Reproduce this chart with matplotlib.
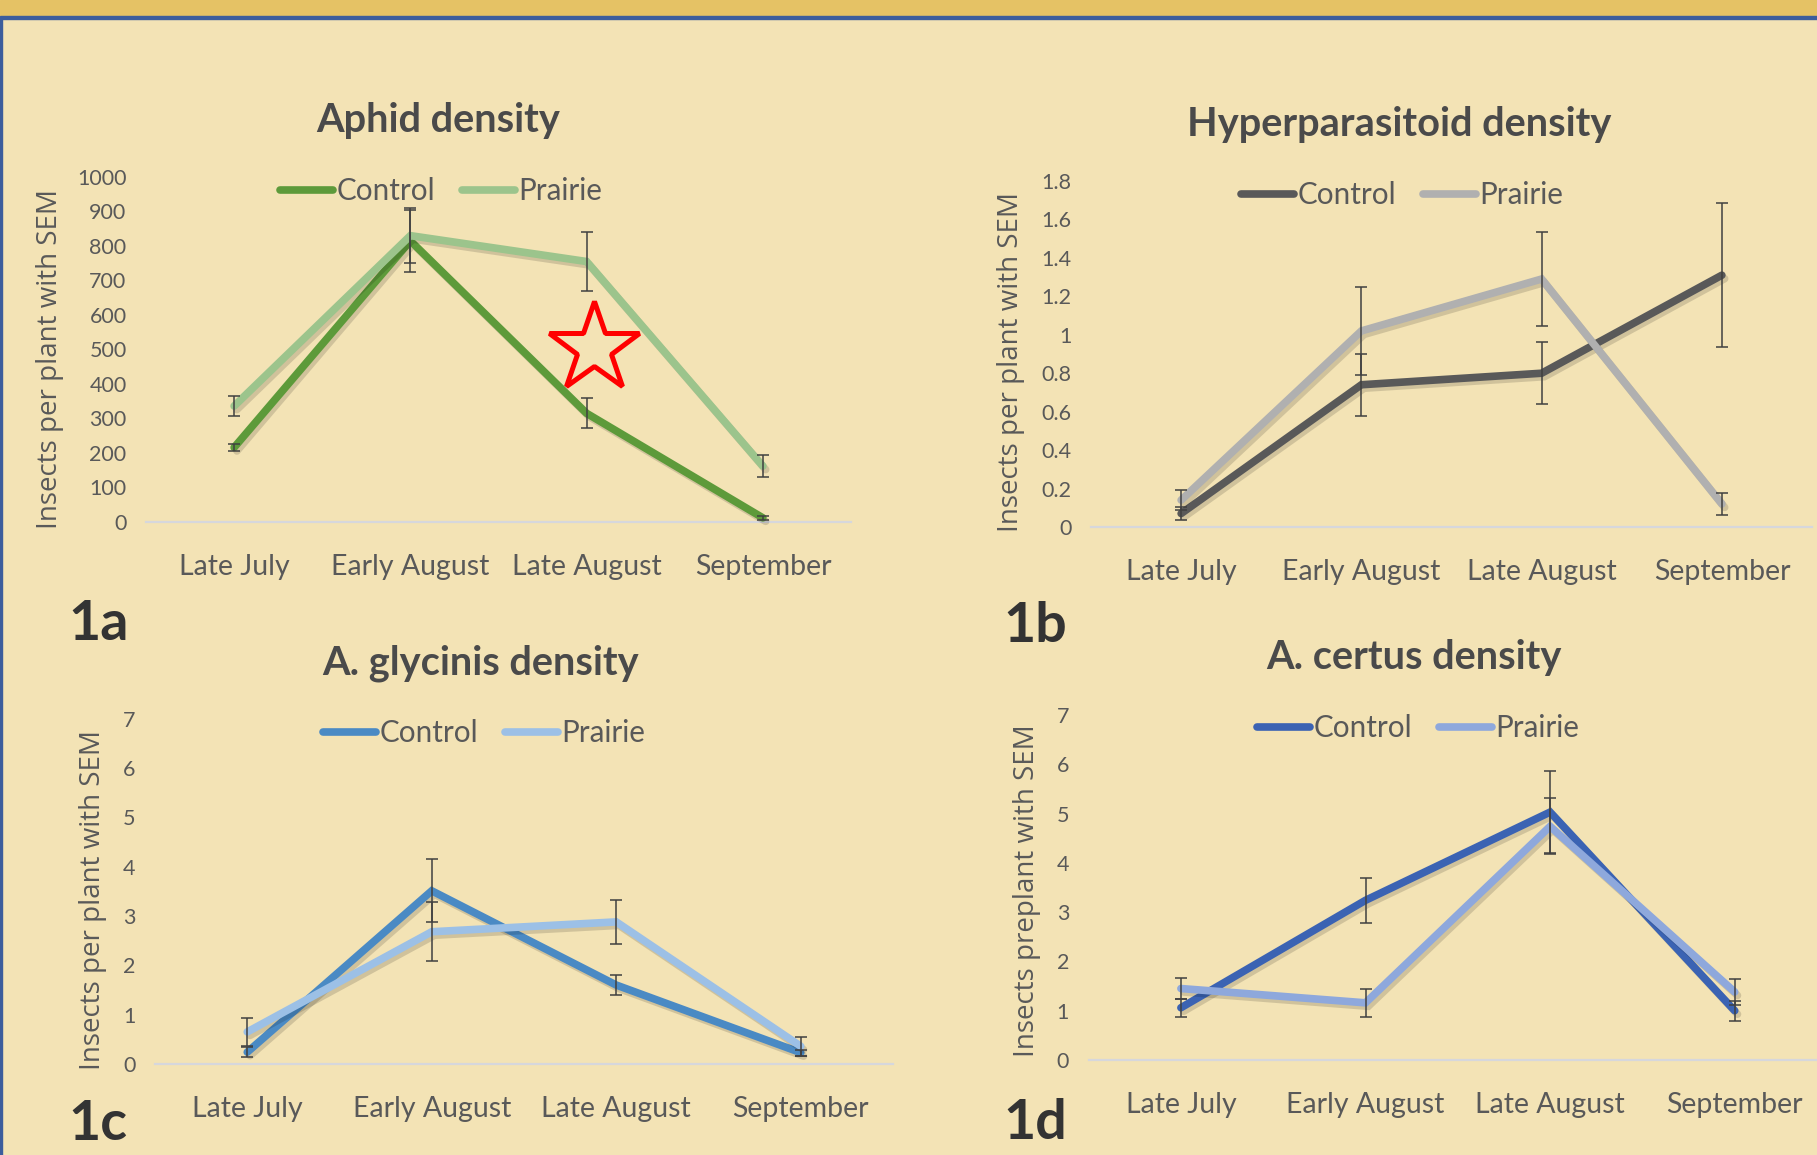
import matplotlib
matplotlib.use("Agg")
from matplotlib import pyplot as plt
from matplotlib import patheffects as pe
from matplotlib.patches import Rectangle

plt.rcParams['font.family'] = ['Lato', 'DejaVu Sans']

months = ["Late July", "Early August", "Late August", "September"]

# 1a aphids
aphid_control = [216, 815, 315, 12]
aphid_control_sem = [11, 90, 43, 5]
aphid_prairie = [336, 830, 755, 162]
aphid_prairie_sem = [28, 80, 85, 33]

# 1b hyperparasitoids
hyper_control = [0.07, 0.74, 0.80, 1.31]
hyper_control_sem = [0.035, 0.16, 0.16, 0.375]
hyper_prairie = [0.14, 1.02, 1.29, 0.12]
hyper_prairie_sem = [0.05, 0.23, 0.245, 0.055]

# 1c A. glycinis
gly_control = [0.24, 3.51, 1.60, 0.23]
gly_control_sem = [0.10, 0.64, 0.21, 0.06]
gly_prairie = [0.65, 2.68, 2.88, 0.36]
gly_prairie_sem = [0.29, 0.60, 0.44, 0.19]

# 1d A. certus
cert_control = [1.06, 3.24, 5.03, 1.00]
cert_control_sem = [0.18, 0.46, 0.84, 0.20]
cert_prairie = [1.45, 1.16, 4.74, 1.38]
cert_prairie_sem = [0.22, 0.29, 0.57, 0.27]

star_pos = (2.04, 504)

W, H = 1817, 1155
BG = "#f3e3b5"
TXT = "#595959"

fig = plt.figure(figsize=(W / 100, H / 100), dpi=100)
fig.patch.set_facecolor(BG)

# top gold band + blue frame
fig.add_artist(Rectangle((0, 1 - 16 / H), 1, 16 / H, transform=fig.transFigure, color="#e5c265", zorder=0))
fig.add_artist(Rectangle((0, 1 - 19 / H), 1, 3 / H, transform=fig.transFigure, color="#3c5d9c", zorder=0))
fig.add_artist(Rectangle((0, 0), 2 / W, 1 - 19 / H, transform=fig.transFigure, color="#3c5d9c", zorder=0))


def ftext(x, y, s, **kw):
    fig.text(x / W, 1 - y / H, s, **kw)


def panel(box, ymax, ystep, ctrl, ctrl_sem, prai, prai_sem, colors,
          title, title_xy, ylabel, ylab_xy, leg_xy, tag, tag_xy):
    left, right, y0, ytop = box
    ax = fig.add_axes([left / W, 1 - y0 / H, (right - left) / W, (y0 - ytop) / H])
    ax.set_facecolor("none")
    x = range(len(months))
    shadow = [pe.SimpleLineShadow(offset=(2, -2.5), shadow_color="k", alpha=0.14), pe.Normal()]
    ax.plot(x, ctrl, color=colors[0], lw=5.5, solid_capstyle="round", solid_joinstyle="miter",
            label="Control", zorder=3, path_effects=shadow, clip_on=False)
    ax.plot(x, prai, color=colors[1], lw=5.5, solid_capstyle="round", solid_joinstyle="miter",
            label="Prairie", zorder=4, path_effects=shadow, clip_on=False)
    for vals, sem in ((ctrl, ctrl_sem), (prai, prai_sem)):
        ax.errorbar(x, vals, yerr=sem, fmt="none", ecolor="#404040", elinewidth=1.1,
                    capsize=4.5, capthick=1.1, zorder=5, clip_on=False)
    ax.set_xlim(-0.5, 3.5)
    ax.set_ylim(0, ymax)
    ticks = [i * ystep for i in range(int(round(ymax / ystep)) + 1)]
    ax.set_yticks(ticks)
    ax.set_yticklabels([f"{t:g}" for t in ticks])
    ax.set_xticks(list(x))
    ax.set_xticklabels(months)
    ax.tick_params(axis="y", length=0, pad=14, labelsize=15.5, labelcolor=TXT)
    ax.tick_params(axis="x", length=0, pad=23, labelsize=20.5, labelcolor=TXT)
    for s in ("left", "right", "top"):
        ax.spines[s].set_visible(False)
    ax.spines["bottom"].set_color("#d6d7dc")
    ax.spines["bottom"].set_linewidth(1.6)

    leg = ax.legend(loc="center", bbox_to_anchor=(leg_xy[0] / W, 1 - leg_xy[1] / H),
                    bbox_transform=fig.transFigure, ncol=2, frameon=False, fontsize=21.3,
                    handlelength=1.8, handletextpad=0.1, columnspacing=0.9, borderpad=0)
    for t in leg.get_texts():
        t.set_color(TXT)
    for h in leg.get_lines():
        h.set_path_effects([])
        h.set_linewidth(5.5)

    ftext(title_xy[0], title_xy[1], title, ha="center", va="baseline", fontsize=28.6,
          fontweight="bold", color="#4a4a4a")
    ftext(ylab_xy[0], ylab_xy[1], ylabel, ha="center", va="center", rotation=90,
          fontsize=20, color=TXT, family=["Open Sans", "DejaVu Sans"])
    ftext(tag_xy[0], tag_xy[1], tag, ha="left", va="baseline", fontsize=40,
          fontweight="bold", color="#333333")
    return ax


ax_a = panel((146, 851, 522, 177), 1000, 100, aphid_control, aphid_control_sem,
             aphid_prairie, aphid_prairie_sem, ("#5d9a3a", "#9cc48c"),
             "Aphid density", (438, 132), "Insects per plant with SEM", (50, 359),
             (441, 191), "1a", (68, 640))
ax_a.plot([star_pos[0]], [star_pos[1]], marker="*", ms=68, mfc="none", mec="#ff0000",
          mew=3.6, zorder=6, linestyle="none")

panel((1091, 1812, 527, 181), 1.8, 0.2, hyper_control, hyper_control_sem,
      hyper_prairie, hyper_prairie_sem, ("#595959", "#b0b0b0"),
      "Hyperparasitoid density", (1399, 136), "Insects per plant with SEM", (1011, 362),
      (1402, 195), "1b", (1003, 642))

panel((155, 893, 1064, 718.6), 7, 1, gly_control, gly_control_sem,
      gly_prairie, gly_prairie_sem, ("#4a8ac4", "#9cc0e6"),
      "A. glycinis density", (481, 674), "Insects per plant with SEM", (93, 900),
      (484, 733), "1c", (68, 1140))

panel((1088.6, 1827, 1060, 715), 7, 1, cert_control, cert_control_sem,
      cert_prairie, cert_prairie_sem, ("#3b63b3", "#8ea8dc"),
      "A. certus density", (1414, 669), "Insects preplant with SEM", (1027, 891),
      (1418, 728), "1d", (1003, 1139))

fig.savefig("out.png", dpi=100, facecolor=BG)
